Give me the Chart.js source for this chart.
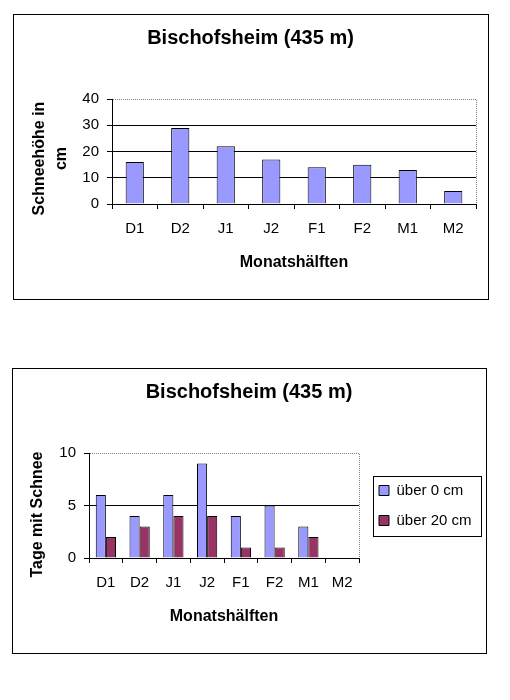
<!DOCTYPE html>
<html>
<head>
<meta charset="utf-8">
<script src="https://cdn.jsdelivr.net/npm/chart.js@4.4.0/dist/chart.umd.min.js"></script>
<style>
html,body{margin:0;padding:0;background:#fff;width:510px;height:700px;overflow:hidden;}
.box{position:absolute;border:1px solid #000;box-sizing:border-box;}
canvas{position:absolute;left:0;}
</style>
</head>
<body>
<div class="box" style="left:13px;top:14px;width:476px;height:286px"></div>
<div class="box" style="left:12px;top:368px;width:475px;height:286px"></div>
<canvas id="c1" width="510" height="340" style="top:0"></canvas>
<canvas id="c2" width="510" height="350" style="top:350px"></canvas>
<script>
// ---- data ----
const categories = ['D1', 'D2', 'J1', 'J2', 'F1', 'F2', 'M1', 'M2'];
const snowDepth = [16, 29, 22, 17, 14, 15, 13, 5];
const daysOver0 = [6, 4, 6, 9, 4, 5, 3, 0];
const daysOver20 = [2, 3, 4, 4, 1, 1, 2, 0];
const depthTicks = [0, 10, 20, 30, 40];
const dayTicks = [0, 5, 10];
const chartTitle = 'Bischofsheim (435 m)';
const xTitle = 'Monatshälften';
const yTitle1 = ['Schneehöhe in', 'cm'];
const yTitle2 = 'Tage mit Schnee';
const seriesNames = ['über 0 cm', 'über 20 cm'];

Chart.defaults.font.family = "'Liberation Sans', Arial, sans-serif";
Chart.defaults.color = '#000';

const BLUE = '#9999FF';
const MAROON = '#993366';

function framePlugin(cfg) {
  return {
    id: 'frame',
    afterInit(chart) {
      if (cfg.legendWidth && chart.legend) {
        const lg = chart.legend;
        const fit = lg.fit.bind(lg);
        lg.fit = function () { fit(); this.width = cfg.legendWidth; };
      }
    },
    afterLayout(chart) {
      if (cfg.legendShift && chart.legend) {
        chart.legend.left += cfg.legendShift;
        chart.legend.right += cfg.legendShift;
      }
      if (cfg.titleRightExtend && chart.titleBlock) {
        chart.titleBlock.right += cfg.titleRightExtend;
        chart.titleBlock.width += cfg.titleRightExtend;
      }
    },
    beforeDraw(chart) {
      const y = chart.scales.y;
      if (y && !y._titlePatched) {
        const orig = y.drawTitle.bind(y);
        const s = cfg.yTitleShift;
        y.drawTitle = function () {
          this.top += s; this.bottom += s;
          orig();
          this.top -= s; this.bottom -= s;
        };
        y._titlePatched = true;
      }
    },
    beforeDatasetsDraw(chart) {
      const {ctx, chartArea: a} = chart;
      ctx.save();
      ctx.strokeStyle = '#808080';
      ctx.lineWidth = 1;
      ctx.setLineDash([1, 1]);
      ctx.beginPath();
      ctx.moveTo(Math.round(a.left) + 1, Math.round(a.top) + 0.5);
      ctx.lineTo(Math.round(a.right) + 0.5, Math.round(a.top) + 0.5);
      ctx.lineTo(Math.round(a.right) + 0.5, Math.round(a.bottom));
      ctx.stroke();
      ctx.restore();
    },
    afterDraw(chart) {
      if (!cfg.legendBox || !chart.legend) return;
      const {ctx, chartArea: a} = chart;
      const lg = chart.legend;
      const cy = (a.top + a.bottom) / 2;
      ctx.save();
      ctx.strokeStyle = '#000';
      ctx.lineWidth = 1;
      ctx.strokeRect(Math.round(lg.left + cfg.legendBox.dx) + 0.5, Math.round(cy - cfg.legendBox.h / 2) + 0.5, cfg.legendBox.w, cfg.legendBox.h);
      ctx.restore();
    }
  };
}

function yGrid(maxVal) {
  return {
    color: (c) => (c.tick && c.tick.value === maxVal) ? 'rgba(0,0,0,0)' : '#000',
    tickColor: '#000',
    tickLength: 5,
    lineWidth: 1
  };
}

const tickFont = {size: 15};
const axisTitleFont = {size: 16, weight: 'bold', lineHeight: '22px'};

// ---- chart 1 ----
new Chart(document.getElementById('c1'), {
  type: 'bar',
  data: {
    labels: categories,
    datasets: [{
      label: 'Schneehöhe',
      data: snowDepth,
      backgroundColor: BLUE,
      borderColor: '#000',
      borderWidth: 1,
      borderSkipped: 'start',
      categoryPercentage: 0.4,
      barPercentage: 1.0
    }]
  },
  options: {
    responsive: false,
    animation: false,
    events: [],
    layout: {padding: {left: 13, right: 34, top: 14, bottom: 41}},
    plugins: {
      legend: {display: false},
      tooltip: {enabled: false},
      title: {
        display: true, text: chartTitle, color: '#000',
        font: {size: 20, weight: 'bold'},
        padding: {top: 12, bottom: 49}
      }
    },
    scales: {
      x: {
        grid: {display: true, drawOnChartArea: false, offset: true, tickLength: 5, tickColor: '#000', color: '#000'},
        border: {color: '#000', width: 1},
        ticks: {font: tickFont, padding: 11, maxRotation: 0, autoSkip: false, color: '#000'},
        title: {display: true, text: xTitle, font: {size: 16, weight: 'bold'}, padding: {top: 0, bottom: 27}, color: '#000'},
        afterFit: (s) => { s.height = 95; }
      },
      y: {
        min: 0, max: 40,
        afterBuildTicks: (s) => { s.ticks = depthTicks.map(v => ({value: v})); },
        grid: yGrid(40),
        border: {color: '#000', width: 1},
        ticks: {font: tickFont, padding: 8, color: '#000'},
        title: {display: true, text: yTitle1, font: axisTitleFont, padding: {top: 16, bottom: 0}, color: '#000'},
        afterFit: (s) => { s.width = 99; }
      }
    }
  },
  plugins: [framePlugin({yTitleShift: 7, titleRightExtend: 12})]
});

// ---- chart 2 ----
new Chart(document.getElementById('c2'), {
  type: 'bar',
  data: {
    labels: categories,
    datasets: [{
      label: seriesNames[0],
      data: daysOver0,
      backgroundColor: BLUE,
      borderColor: '#000',
      borderWidth: 1,
      borderSkipped: 'start',
      categoryPercentage: 0.6,
      barPercentage: 1.0
    }, {
      label: seriesNames[1],
      data: daysOver20,
      backgroundColor: MAROON,
      borderColor: '#000',
      borderWidth: 1,
      borderSkipped: 'start',
      categoryPercentage: 0.6,
      barPercentage: 1.0
    }]
  },
  options: {
    responsive: false,
    animation: false,
    events: [],
    layout: {padding: {left: 12, right: 24, top: 18, bottom: 47}},
    plugins: {
      tooltip: {enabled: false},
      title: {
        display: true, text: chartTitle, color: '#000',
        font: {size: 20, weight: 'bold'},
        padding: {top: 12.3, bottom: 48.7}
      },
      legend: {
        display: true,
        position: 'right',
        fullSize: false,
        align: 'center',
        labels: {boxWidth: 10, boxHeight: 10, padding: 15, font: {size: 15}, color: '#000'}
      }
    },
    scales: {
      x: {
        grid: {display: true, drawOnChartArea: false, offset: true, tickLength: 5, tickColor: '#000', color: '#000'},
        border: {color: '#000', width: 1},
        ticks: {font: tickFont, padding: 11, maxRotation: 0, autoSkip: false, color: '#000'},
        title: {display: true, text: xTitle, font: {size: 16, weight: 'bold'}, padding: {top: 0, bottom: 27}, color: '#000'},
        afterFit: (s) => { s.height = 95; }
      },
      y: {
        min: 0, max: 10,
        afterBuildTicks: (s) => { s.ticks = dayTicks.map(v => ({value: v})); },
        grid: yGrid(10),
        border: {color: '#000', width: 1},
        ticks: {font: tickFont, padding: 8, color: '#000'},
        title: {display: true, text: yTitle2, font: axisTitleFont, padding: {top: 15, bottom: 0}, color: '#000'},
        afterFit: (s) => { s.width = 77; }
      }
    }
  },
  plugins: [framePlugin({yTitleShift: 9, legendWidth: 127, legendShift: 5, legendBox: {dx: 9, w: 108, h: 60}})]
});
</script>
</body>
</html>
